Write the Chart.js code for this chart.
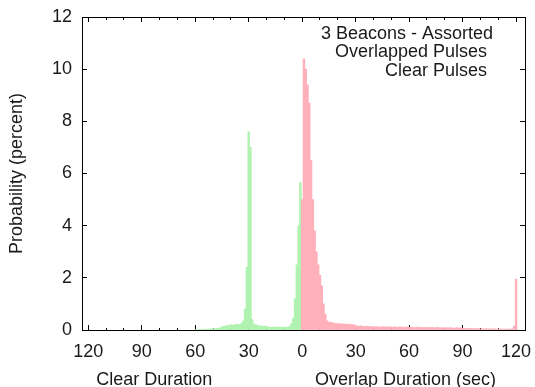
<!DOCTYPE html>
<html><head><meta charset="utf-8">
<script src="https://cdn.jsdelivr.net/npm/chart.js@4/dist/chart.umd.min.js"></script>
<style>html,body{margin:0;padding:0;background:#fff;}canvas{display:block;}</style>
</head><body>
<canvas id="c" width="535" height="387"></canvas>
<script>
// Probability (percent) per 1-second bin; index = overlap duration in seconds
const overlapPct = [
 5.0, 10.4, 10.0, 9.4, 8.7, 6.5, 5.0, 3.8, 3.0, 2.5,
 2.1, 1.7, 1.0, 0.6, 0.35, 0.3, 0.3, 0.28, 0.25, 0.26,
 0.24, 0.25, 0.22, 0.24, 0.22, 0.23, 0.21, 0.22, 0.2, 0.2,
 0.18, 0.15, 0.14, 0.16, 0.14, 0.13, 0.15, 0.13, 0.14, 0.12,
 0.13, 0.12, 0.13, 0.12, 0.11, 0.12, 0.13, 0.11, 0.12, 0.11,
 0.12, 0.11, 0.12, 0.1, 0.11, 0.12, 0.1, 0.11, 0.1, 0.12,
 0.1, 0.1, 0.11, 0.09, 0.1, 0.11, 0.1, 0.09, 0.1, 0.1,
 0.09, 0.1, 0.09, 0.1, 0.08, 0.09, 0.1, 0.09, 0.08, 0.09,
 0.08, 0.09, 0.08, 0.09, 0.08, 0.07, 0.08, 0.09, 0.07, 0.08,
 0.07, 0.06, 0.07, 0.06, 0.05, 0.06, 0.05, 0.06, 0.05, 0.05,
 0.04, 0.05, 0.04, 0.05, 0.04, 0.04, 0.05, 0.04, 0.04, 0.03,
 0.04, 0.04, 0.03, 0.04, 0.03, 0.03, 0.04, 0.03, 0.05, 0.15,
 1.95
];
// index = clear duration in seconds (plotted to the left of 0)
const clearPct = [
 0, 5.65, 4.0, 2.5, 1.2, 0.45, 0.25, 0.15, 0.1, 0.12,
 0.1, 0.11, 0.1, 0.12, 0.1, 0.11, 0.12, 0.1, 0.11, 0.12,
 0.13, 0.15, 0.14, 0.16, 0.15, 0.18, 0.2, 0.22, 0.4, 7.0,
 7.6, 2.4, 0.8, 0.35, 0.25, 0.22, 0.2, 0.22, 0.2, 0.18,
 0.2, 0.17, 0.18, 0.15, 0.14, 0.12, 0.08, 0.07, 0.06, 0.05,
 0.05, 0.04, 0.04, 0.03, 0.03, 0.03, 0.02, 0.02, 0.02, 0.02,
 0.02
];
const seriesNames = ['Overlapped Pulses', 'Clear Pulses'];
const legendTitle = '3 Beacons - Assorted';
const xTickValues = [-120,-110,-100,-90,-80,-70,-60,-50,-40,-30,-20,-10,0,10,20,30,40,50,60,70,80,90,100,110,120];
const xLabelValues = [-120,-90,-60,-30,0,30,60,90,120];
const xLabelText = ['120','90','60','30','0','30','60','90','120'];
const yTickValues = [0,2,4,6,8,10,12];
const xTitleLeft = 'Clear Duration';
const xTitleRight = 'Overlap Duration (sec)';
const yTitle = 'Probability (percent)';

const FONT = '"Liberation Sans", Arial, Helvetica, sans-serif';
const TEXT = '#1a1a1a';

const overlapData = overlapPct.map((y, i) => ({x: i, y}));
const clearData = clearPct.map((y, i) => ({x: -i, y})).filter(p => p.y > 0);

const textPlugin = {
  id: 'texts',
  afterDraw(chart) {
    const ctx = chart.ctx, xs = chart.scales.x;
    ctx.save();
    ctx.font = '18px ' + FONT;
    ctx.fillStyle = TEXT;
    ctx.textBaseline = 'alphabetic';
    ctx.textAlign = 'center';
    ctx.fillText(xTitleLeft, xs.getPixelForValue(-83), 385);
    ctx.fillText(xTitleRight, xs.getPixelForValue(58), 385);
    ctx.textAlign = 'right';
    ctx.fillText(legendTitle, 493, 38.5);
    ctx.fillText(chart.data.datasets[0].label, 487, 57);
    ctx.fillText(chart.data.datasets[1].label, 487, 75.5);
    ctx.restore();
  }
};

const minorDash = (vals, dash) => ctx => (ctx.tick && vals.includes(ctx.tick.value)) ? [] : dash;
const noPad = s => { s.paddingLeft = 0; s.paddingRight = 0; s.paddingTop = 0; s.paddingBottom = 0; };

new Chart(document.getElementById('c'), {
  type: 'bar',
  data: {
    datasets: [
      {label: seriesNames[0], data: overlapData, backgroundColor: '#ffb0ba', borderWidth: 0,
       barPercentage: 1, categoryPercentage: 1, grouped: false},
      {label: seriesNames[1], data: clearData, backgroundColor: '#b0f2b0', borderWidth: 0,
       barPercentage: 1, categoryPercentage: 1, grouped: false}
    ]
  },
  options: {
    responsive: false,
    animation: false,
    layout: {padding: 0},
    plugins: {legend: {display: false}, tooltip: {enabled: false}},
    scales: {
      x: {
        type: 'linear', position: 'bottom', min: -123.5, max: 125, offset: false,
        afterBuildTicks: s => { s.ticks = xTickValues.map(v => ({value: v})); },
        afterFit: s => { s.height = 57; noPad(s); },
        ticks: {autoSkip: false, maxRotation: 0, minRotation: 0, padding: 16, color: TEXT,
          font: {family: FONT, size: 18},
          callback: v => { const k = xLabelValues.indexOf(v); return k < 0 ? '' : xLabelText[k]; }},
        grid: {offset: false, drawOnChartArea: false, drawTicks: true, tickLength: -5, tickColor: '#000', tickWidth: 1,
          tickBorderDash: minorDash(xLabelValues, [3, 20])},
        border: {display: true, color: '#000', width: 1}
      },
      x2: {
        type: 'linear', position: 'top', min: -123.5, max: 125, offset: false,
        afterBuildTicks: s => { s.ticks = xTickValues.map(v => ({value: v})); },
        afterFit: s => { s.height = 17; noPad(s); },
        ticks: {display: false},
        grid: {offset: false, drawOnChartArea: false, drawTicks: true, tickLength: -5, tickColor: '#000', tickWidth: 1,
          tickBorderDash: minorDash(xLabelValues, [0, 2, 3, 20])},
        border: {display: true, color: '#000', width: 1}
      },
      y: {
        type: 'linear', position: 'left', min: 0, max: 12,
        afterBuildTicks: s => { s.ticks = yTickValues.map(v => ({value: v})); },
        afterFit: s => { s.width = 82; noPad(s); },
        ticks: {padding: 15, color: TEXT, font: {family: FONT, size: 18}},
        grid: {drawOnChartArea: false, drawTicks: true, tickLength: -5, tickColor: '#000', tickWidth: 1},
        border: {display: true, color: '#000', width: 1},
        title: {display: true, text: yTitle, color: TEXT, font: {family: FONT, size: 18}, padding: {top: 6, bottom: 0}}
      },
      y2: {
        type: 'linear', position: 'right', min: 0, max: 12,
        afterBuildTicks: s => { s.ticks = yTickValues.map(v => ({value: v})); },
        afterFit: s => { s.width = 10; noPad(s); },
        ticks: {display: false},
        grid: {drawOnChartArea: false, drawTicks: true, tickLength: -5, tickColor: '#000', tickWidth: 1},
        border: {display: true, color: '#000', width: 1}
      }
    }
  },
  plugins: [textPlugin]
});
</script>
</body></html>
